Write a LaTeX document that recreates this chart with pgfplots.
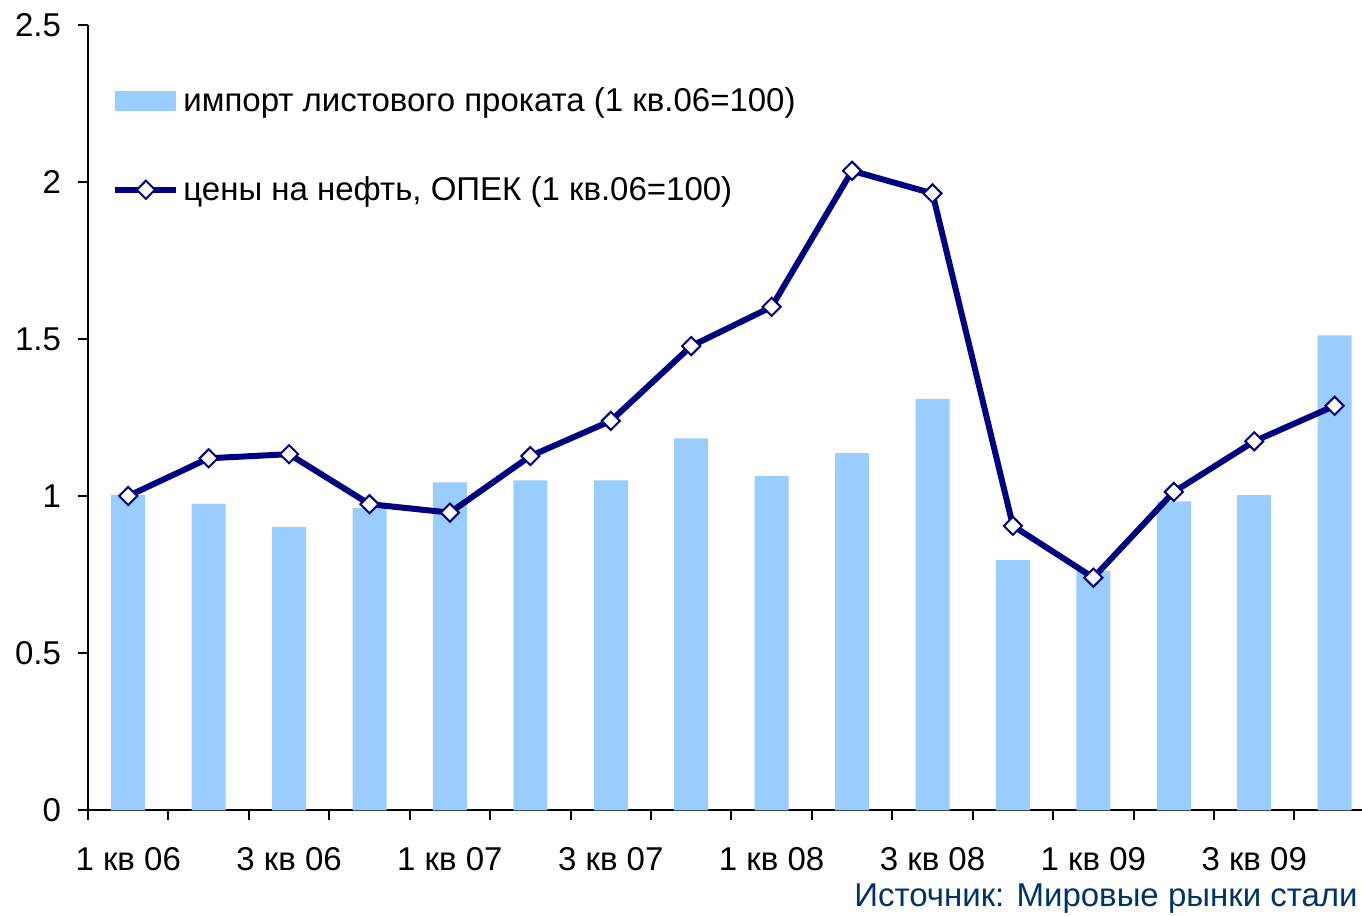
\documentclass[border=0pt]{standalone}
\usepackage{pgfplots}
\pgfplotsset{compat=1.18}
\usepackage{fontspec}
\setmainfont{Liberation Sans}
\definecolor{barblue}{RGB}{153,204,255}
\definecolor{navyline}{RGB}{0,0,128}
\definecolor{srcblue}{RGB}{0,51,102}
\newcommand{\chartfont}{\fontsize{16.5pt}{19pt}\selectfont}
\pgfplotsset{
  barlegend/.style={legend image code/.code={\fill[barblue] (0pt,-5pt) rectangle (30.5pt,5pt);}},
  linelegend/.style={legend image code/.code={%
    \draw[navyline, line width=3pt] (0pt,0pt) -- (30.5pt,0pt);
    \draw[navyline, fill=white, line width=1pt] (15.25pt,4.53pt) -- (19.78pt,0pt) -- (15.25pt,-4.53pt) -- (10.72pt,0pt) -- cycle;}},
}
\begin{document}
\begin{tikzpicture}
\path[use as bounding box, clip] (-44pt,-52.75pt) rectangle (637pt,405.25pt);
\begin{axis}[
  at={(0pt,0pt)}, anchor=south west,
  scale only axis, width=637pt, height=392.75pt,
  xmin=-0.5, xmax=15.34, ymin=0, ymax=2.5,
  axis x line*=bottom, axis y line*=left,
  axis line style={line width=1pt, black},
  ytick={0,0.5,1,1.5,2,2.5},
  xtick={-0.5,0.5,...,15.5},
  xticklabels={},
  extra x ticks={0,2,4,6,8,10,12,14},
  extra x tick labels={1 кв 06,3 кв 06,1 кв 07,3 кв 07,1 кв 08,3 кв 08,1 кв 09,3 кв 09},
  extra x tick style={major tick length=0pt, tick label style={anchor=base, yshift=-30pt}},
  major tick length=5pt,
  tick align=outside,
  tick style={black, line width=1pt},
  yticklabel style={xshift=-5pt},
  ticklabel style={font=\chartfont},
  /pgf/number format/assume math mode=true,
  legend style={at={(axis description cs:0,1)}, anchor=north west,
    xshift=9pt, yshift=-27pt, draw=none, fill=none, font=\chartfont,
    row sep=27pt},
  legend cell align=left,
]
\addplot[ybar, bar width=17pt, fill=barblue, draw=none, barlegend]
  coordinates {
  (0,1.004) (1,0.976) (2,0.903) (3,0.963) (4,1.044) (5,1.051) (6,1.051) (7,1.184)
  (8,1.064) (9,1.137) (10,1.310) (11,0.797) (12,0.763) (13,0.984) (14,1.004) (15,1.512)
  };
\addlegendentry{импорт листового проката (1 кв.06=100)}
\addplot[color=navyline, line width=3pt, mark=square*, mark size=3.2pt,
  mark options={rotate=45, fill=white, draw=navyline, line width=1pt, solid}, linelegend]
  coordinates {
  (0,1.001) (1,1.121) (2,1.134) (3,0.975) (4,0.948) (5,1.128) (6,1.240) (7,1.478)
  (8,1.603) (9,2.036) (10,1.964) (11,0.906) (12,0.741) (13,1.014) (14,1.175) (15,1.288)
  };
\addlegendentry{цены на нефть, ОПЕК (1 кв.06=100)}
\end{axis}
\node[anchor=base east, inner sep=0pt, font=\chartfont, text=srcblue] at (635pt,-48.1pt) {Источник: Мировые рынки стали};
\end{tikzpicture}
\end{document}
